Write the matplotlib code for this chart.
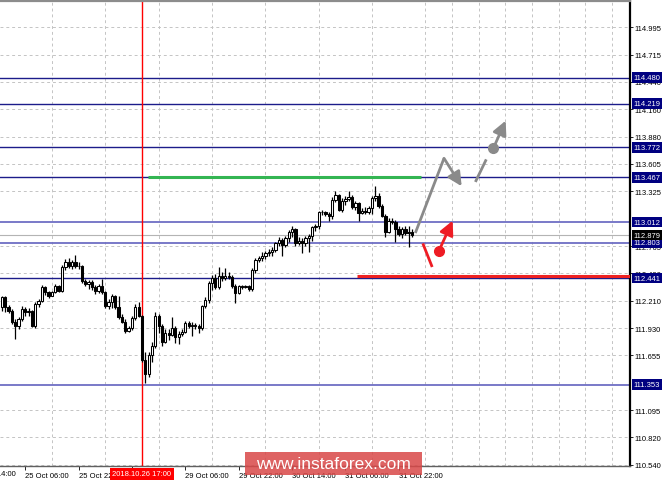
import numpy as np
import matplotlib
matplotlib.use("Agg")
import matplotlib.pyplot as plt
import matplotlib.transforms as mtransforms
from matplotlib.patches import Rectangle

plt.rcParams['font.family'] = ['Liberation Sans', 'DejaVu Sans']
plt.rcParams['font.size'] = 5.5

# H1 bars, index 0 = 25 Oct 06:00 (weekend hours skipped)
bars = np.arange(-7, 117)

opens = [112.143, 112.245, 112.143, 112.109, 111.990, 111.956, 112.024, 112.126, 112.092, 112.109,
         111.956, 112.177, 112.211, 112.347, 112.296, 112.262, 112.296, 112.357, 112.313, 112.550,
         112.601, 112.561, 112.608, 112.567, 112.561, 112.415, 112.381, 112.405, 112.347, 112.313,
         112.357, 112.296, 112.153, 112.201, 112.255, 112.143, 112.041, 111.997, 111.906, 111.929,
         112.031, 112.143, 112.058, 111.610, 111.464, 111.658, 111.746, 112.051, 111.956, 111.794,
         111.882, 111.861, 111.929, 111.838, 111.872, 111.895, 111.984, 111.956, 111.963, 111.950,
         111.929, 112.153, 112.221, 112.391, 112.438, 112.347, 112.459, 112.438, 112.466, 112.449,
         112.357, 112.289, 112.357, 112.347, 112.357, 112.330, 112.527, 112.629, 112.642, 112.662,
         112.696, 112.710, 112.730, 112.798, 112.832, 112.778, 112.846, 112.914, 112.941, 112.798,
         112.822, 112.798, 112.846, 112.866, 112.958, 112.968, 113.111, 113.117, 113.094, 113.077,
         113.240, 113.287, 113.138, 113.229, 113.246, 113.263, 113.161, 113.206, 113.104, 113.124,
         113.111, 113.151, 113.253, 113.280, 113.172, 113.077, 112.914, 113.026, 113.009, 112.941,
         112.890, 112.941, 112.900, 112.914]
highs = [112.262, 112.262, 112.167, 112.126, 112.024, 112.041, 112.160, 112.143, 112.133, 112.119,
         112.194, 112.228, 112.371, 112.364, 112.313, 112.313, 112.381, 112.371, 112.574, 112.635,
         112.642, 112.629, 112.676, 112.601, 112.574, 112.432, 112.425, 112.425, 112.371, 112.381,
         112.432, 112.313, 112.228, 112.279, 112.269, 112.255, 112.075, 112.024, 111.956, 112.051,
         112.177, 112.194, 112.065, 111.685, 111.685, 111.787, 112.099, 112.075, 111.973, 111.923,
         111.923, 112.041, 111.956, 111.906, 111.923, 112.007, 112.007, 111.990, 111.984, 111.970,
         112.167, 112.245, 112.415, 112.472, 112.483, 112.550, 112.500, 112.540, 112.500, 112.472,
         112.381, 112.371, 112.371, 112.371, 112.371, 112.540, 112.642, 112.662, 112.710, 112.720,
         112.737, 112.754, 112.812, 112.856, 112.846, 112.866, 112.934, 112.968, 112.954, 112.856,
         112.846, 112.866, 112.890, 112.975, 112.992, 113.128, 113.138, 113.128, 113.117, 113.263,
         113.331, 113.297, 113.253, 113.280, 113.331, 113.287, 113.229, 113.219, 113.151, 113.161,
         113.178, 113.273, 113.382, 113.307, 113.195, 113.094, 113.049, 113.049, 113.036, 112.968,
         112.958, 112.968, 112.968, 112.941]
lows = [112.109, 112.092, 112.085, 111.973, 111.821, 111.923, 112.007, 112.058, 112.051, 111.939,
        111.929, 112.143, 112.201, 112.269, 112.235, 112.255, 112.289, 112.296, 112.303, 112.527,
        112.540, 112.533, 112.540, 112.533, 112.391, 112.357, 112.330, 112.323, 112.279, 112.289,
        112.279, 112.133, 112.126, 112.133, 112.126, 112.024, 111.984, 111.882, 111.889, 111.916,
        112.018, 112.041, 111.590, 111.373, 111.430, 111.590, 111.726, 111.882, 111.746, 111.780,
        111.814, 111.848, 111.780, 111.770, 111.848, 111.882, 111.929, 111.855, 111.923, 111.882,
        111.916, 112.133, 112.187, 112.323, 112.330, 112.330, 112.415, 112.425, 112.432, 112.337,
        112.187, 112.279, 112.330, 112.337, 112.313, 112.313, 112.493, 112.601, 112.618, 112.635,
        112.662, 112.662, 112.710, 112.771, 112.669, 112.754, 112.812, 112.856, 112.771, 112.778,
        112.696, 112.771, 112.703, 112.822, 112.924, 112.941, 113.083, 113.070, 113.026, 113.043,
        113.212, 113.124, 113.117, 113.185, 113.229, 113.145, 113.138, 113.026, 113.090, 113.097,
        113.094, 113.094, 113.229, 113.151, 113.060, 112.856, 112.900, 112.992, 112.805, 112.866,
        112.846, 112.880, 112.754, 112.856]
closes = [112.245, 112.143, 112.109, 111.990, 111.956, 112.024, 112.126, 112.092, 112.109, 111.956,
          112.177, 112.211, 112.347, 112.296, 112.262, 112.296, 112.357, 112.313, 112.550, 112.601,
          112.561, 112.608, 112.567, 112.561, 112.415, 112.381, 112.405, 112.347, 112.313, 112.357,
          112.296, 112.153, 112.201, 112.255, 112.143, 112.041, 111.997, 111.906, 111.929, 112.031,
          112.143, 112.058, 111.610, 111.464, 111.658, 111.746, 112.051, 111.956, 111.794, 111.882,
          111.861, 111.929, 111.838, 111.872, 111.895, 111.984, 111.956, 111.963, 111.950, 111.929,
          112.153, 112.221, 112.391, 112.438, 112.347, 112.459, 112.438, 112.466, 112.449, 112.357,
          112.289, 112.357, 112.347, 112.357, 112.330, 112.527, 112.629, 112.642, 112.662, 112.696,
          112.710, 112.730, 112.798, 112.832, 112.778, 112.846, 112.914, 112.941, 112.798, 112.822,
          112.798, 112.846, 112.866, 112.958, 112.968, 113.111, 113.117, 113.094, 113.077, 113.240,
          113.287, 113.138, 113.229, 113.246, 113.263, 113.161, 113.206, 113.104, 113.124, 113.111,
          113.151, 113.253, 113.280, 113.172, 113.077, 112.914, 113.026, 113.009, 112.941, 112.890,
          112.941, 112.900, 112.914, 112.880]

# price scale and levels
yticks = [110.540, 110.820, 111.095, 111.655, 111.930, 112.210, 112.490, 112.765,
          113.325, 113.605, 113.880, 114.160, 114.440, 114.715, 114.995]
levels_dark = [114.480, 114.219, 113.772, 113.467, 112.441]
levels_light = [113.012, 112.803, 111.353]
current_price = 112.879

# time axis labels (every 16 bars); 26 Oct 14:00 sits under the cursor label
first_label = (-16, "24 Oct 14:00")
xtick_bars = [0, 16, 32, 48, 64, 80, 96, 112]
xtick_labels = ["25 Oct 06:00", "25 Oct 22:00", "", "29 Oct 06:00",
                "29 Oct 22:00", "30 Oct 14:00", "31 Oct 06:00", "31 Oct 22:00"]
cursor_bar = 35
cursor_label = "2018.10.26 17:00"

# drawn levels / forecast arrows (bar, price)
green_level = (113.467, 36.8, 118.7)
red_level = (112.466, 99.5)
gray_path = [(117.0, 112.90), (125.6, 113.661), (130.9, 113.376)]
gray_dash = [(135.2, 113.433), (138.1, 113.637)]
gray_dot = (140.4, 113.763)
gray_tip = (144.1, 114.044)
red_dash = [(119.4, 112.781), (121.9, 112.567)]
red_dot = (124.1, 112.720)
red_tip = (128.2, 113.026)

XMIN, XMAX = -7.6, 181.4

fig = plt.figure(figsize=(6.65, 4.85), dpi=100)
ax = fig.add_axes([0, 18 / 485, 630 / 665, 465 / 485])

o = np.array(opens)
c = np.array(closes)
up = c >= o
ax.vlines(bars, lows, highs, color='black', lw=0.9, zorder=3)
ax.bar(bars, np.maximum(np.abs(c - o), 0.006), bottom=np.minimum(o, c), width=0.7,
       color=np.where(up, 'white', 'black'), edgecolor='black', lw=0.75, zorder=4)

# levels
for lv in levels_dark:
    ax.axhline(lv, color='#1c1c8a', lw=1.0, zorder=2)
for lv in levels_light:
    ax.axhline(lv, color='#6e6ec4', lw=1.3, zorder=2)
ax.axhline(current_price, color='#b4b4b4', lw=0.8, zorder=2)
ax.axvline(cursor_bar, color='red', lw=1.0, zorder=2)

ax.hlines(green_level[0], green_level[1], green_level[2], color='#33b552', lw=2.2, zorder=5)
ax.hlines(red_level[0], red_level[1], XMAX, color='#ee2222', lw=2.2, zorder=5)

# forecast arrows
head = '-|>,head_length=0.7,head_width=0.35'
gcol = '#8a8a8a'
ax.plot([p[0] for p in gray_path[:2]], [p[1] for p in gray_path[:2]], color=gcol, lw=2, zorder=6,
        solid_capstyle='butt')
ax.annotate('', xy=gray_path[2], xytext=gray_path[1],
            arrowprops=dict(arrowstyle=head, color=gcol, lw=2, mutation_scale=12,
                            shrinkA=0, shrinkB=0), zorder=6)
ax.plot([p[0] for p in gray_dash], [p[1] for p in gray_dash], color=gcol, lw=2, zorder=6)
ax.plot(*gray_dot, 'o', color=gcol, ms=7, zorder=6)
ax.annotate('', xy=gray_tip, xytext=gray_dot,
            arrowprops=dict(arrowstyle=head, color=gcol, lw=2, mutation_scale=12,
                            shrinkA=0, shrinkB=0), zorder=6)

rcol = '#ee1c24'
ax.plot([p[0] for p in red_dash], [p[1] for p in red_dash], color=rcol, lw=2, zorder=6)
ax.plot(*red_dot, 'o', color=rcol, ms=7, zorder=6)
ax.annotate('', xy=red_tip, xytext=red_dot,
            arrowprops=dict(arrowstyle=head, color=rcol, lw=2, mutation_scale=12,
                            shrinkA=0, shrinkB=0), zorder=6)

# axes styling
ax.spines['left'].set_visible(False)
ax.spines['right'].set_color('black')
ax.spines['right'].set_linewidth(1.6)
ax.spines['top'].set_color('#8c8c8c')
ax.spines['top'].set_linewidth(1.6)
ax.spines['bottom'].set_color('#606060')
ax.spines['bottom'].set_linewidth(1.0)

ax.yaxis.tick_right()
ax.set_yticks(yticks, labels=[f"{v:.3f}" for v in yticks])
ax.tick_params(axis='y', length=2, width=0.6, pad=1.5, labelsize=5.5, colors='black')
ax.set_xticks(xtick_bars, labels=xtick_labels)
ax.set_xticks(np.arange(-8, 182, 8), minor=True)
ax.tick_params(axis='x', which='major', length=3, width=0.6, pad=1.5, labelsize=5.5)
ax.tick_params(axis='x', which='minor', length=0)
for lbl in ax.get_xticklabels():
    lbl.set_ha('left')

ax.grid(True, which='minor', axis='x', color='#c4c4c4', ls=(0, (3, 3)), lw=0.7)
ax.grid(True, which='major', axis='y', color='#c4c4c4', ls=(0, (3, 3)), lw=0.7)
ax.set_axisbelow(True)

# limits after ticks (set_xticks would widen them)
ax.set_xlim(XMIN, XMAX)
ax.set_ylim(110.527, 115.263)

# first time label starts left of the chart and is cut by the figure edge
ax.annotate(first_label[1], xy=(first_label[0], 0), xycoords=('data', 'axes fraction'),
            xytext=(0, -8), textcoords='offset pixels', ha='left', va='center',
            fontsize=5.5, annotation_clip=False)

# price label boxes on the scale
trans = mtransforms.blended_transform_factory(ax.transAxes, ax.transData)
for lv in levels_dark + levels_light:
    ax.text(1.0056, lv, f"{lv:.3f}", transform=trans, ha='left', va='center', color='white',
            fontsize=5.5, clip_on=False, zorder=10,
            bbox=dict(boxstyle='square,pad=0.25', fc='#000080', ec='none'))
ax.text(1.0056, current_price, f"{current_price:.3f}", transform=trans, ha='left', va='center',
        color='white', fontsize=5.5, clip_on=False, zorder=11,
        bbox=dict(boxstyle='square,pad=0.25', fc='black', ec='none'))

# cursor time label
ax.annotate(cursor_label, xy=(cursor_bar, 0), xycoords=('data', 'axes fraction'),
            xytext=(0, -8), textcoords='offset pixels', ha='center', va='center',
            color='white', fontsize=5.5, zorder=10, annotation_clip=False,
            bbox=dict(boxstyle='square,pad=0.3', fc='#ff0000', ec='none'))

# watermark
fig.add_artist(Rectangle((245 / 665, 9 / 485), 177 / 665, 23 / 485, transform=fig.transFigure,
                         facecolor='#d94848', alpha=0.85, edgecolor='none', zorder=20))
fig.text(333.5 / 665, 20.5 / 485, "www.instaforex.com", color='white', fontsize=12.5,
         ha='center', va='center', zorder=21)

fig.savefig("out.png", dpi=100)
